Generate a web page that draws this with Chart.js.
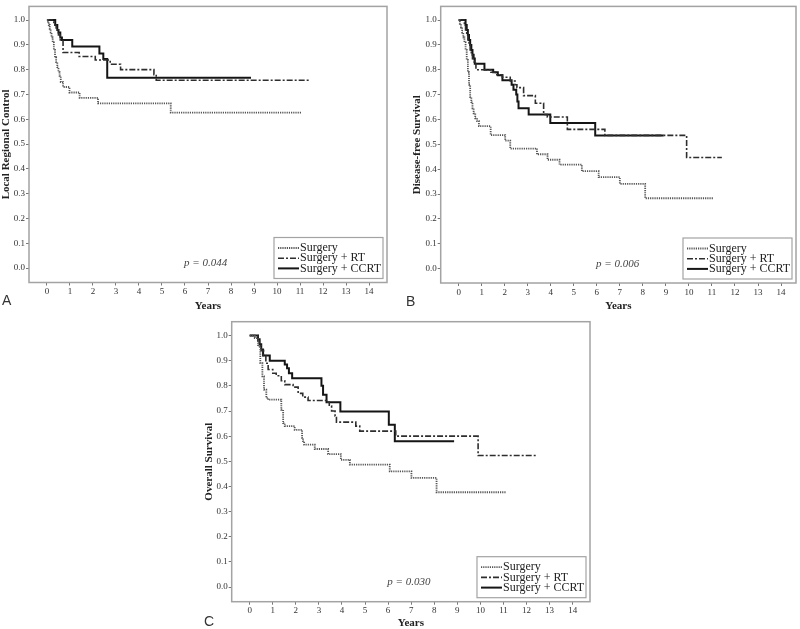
<!DOCTYPE html>
<html>
<head>
<meta charset="utf-8">
<script src="https://cdn.jsdelivr.net/npm/chart.js@4.4.1/dist/chart.umd.min.js"></script>
<style>
  body { margin: 0; background: #fff; width: 800px; height: 629px; position: relative; overflow: hidden; }
  canvas { position: absolute; }
  .tag { position: absolute; font-family: "Liberation Sans", Arial, sans-serif; font-size: 14px; line-height: 14px; color: #333; }
</style>
</head>
<body>
<canvas id="panelA" width="400" height="318" style="left:0;top:0"></canvas>
<canvas id="panelB" width="400" height="318" style="left:400px;top:0"></canvas>
<canvas id="panelC" width="400" height="316" style="left:200px;top:314px"></canvas>
<div class="tag" style="left:2px;top:293px">A</div>
<div class="tag" style="left:406px;top:294px">B</div>
<div class="tag" style="left:204px;top:614px">C</div>

<script>
// tick labels
const yearTicks = [0, 1, 2, 3, 4, 5, 6, 7, 8, 9, 10, 11, 12, 13, 14];
const survTicks = [0, 0.1, 0.2, 0.3, 0.4, 0.5, 0.6, 0.7, 0.8, 0.9, 1.0];
const groups = ['Surgery', 'Surgery + RT', 'Surgery + CCRT'];

// A - local regional control (time of each drop, value after it)
const lrcSurgT = [0, 0.04, 0.08, 0.12, 0.16, 0.2, 0.25, 0.3, 0.35, 0.4, 0.45, 0.5, 0.55, 0.6, 0.7, 0.98, 1.42, 2.22, 5.38, 11.08];
const lrcSurgS = [1, 0.99, 0.98, 0.965, 0.95, 0.93, 0.91, 0.88, 0.85, 0.83, 0.81, 0.79, 0.775, 0.75, 0.73, 0.708, 0.686, 0.664, 0.627, 0.627];
const lrcRtT = [0, 0.3, 0.4, 0.5, 0.58, 0.7, 1.4, 2.1, 2.75, 3.2, 4.65, 4.75, 11.4];
const lrcRtS = [1, 0.98, 0.96, 0.94, 0.92, 0.869, 0.853, 0.839, 0.822, 0.8, 0.78, 0.757, 0.757];
const lrcCcrtT = [0, 0.36, 0.45, 0.5, 0.58, 0.65, 1.1, 2.28, 2.45, 2.62, 8.87];
const lrcCcrtS = [1, 0.98, 0.96, 0.95, 0.93, 0.92, 0.893, 0.865, 0.843, 0.767, 0.767];

// B - disease-free survival
const dfsSurgT = [0, 0.05, 0.1, 0.15, 0.2, 0.25, 0.3, 0.35, 0.4, 0.45, 0.5, 0.55, 0.6, 0.65, 0.72, 0.8, 0.88, 1.39, 2.02, 2.24, 3.4, 3.86, 4.38, 5.35, 6.08, 7.0, 8.1, 11.06];
const dfsSurgS = [1, 0.985, 0.97, 0.95, 0.93, 0.91, 0.88, 0.84, 0.79, 0.74, 0.69, 0.67, 0.645, 0.625, 0.605, 0.593, 0.573, 0.537, 0.515, 0.483, 0.46, 0.438, 0.418, 0.392, 0.368, 0.341, 0.283, 0.283];
const dfsRtT = [0, 0.25, 0.3, 0.35, 0.4, 0.45, 0.5, 0.55, 0.6, 0.68, 0.75, 1.4, 1.6, 1.9, 2.24, 2.45, 2.53, 2.82, 3.33, 3.69, 3.85, 4.72, 6.35, 9.9, 11.43];
const dfsRtS = [1, 0.98, 0.96, 0.94, 0.92, 0.9, 0.88, 0.86, 0.845, 0.83, 0.8, 0.79, 0.78, 0.77, 0.755, 0.74, 0.728, 0.696, 0.665, 0.62, 0.61, 0.56, 0.536, 0.447, 0.447];
const dfsCcrtT = [0, 0.3, 0.35, 0.4, 0.45, 0.5, 0.55, 0.6, 0.65, 0.7, 1.12, 1.5, 1.7, 1.9, 2.3, 2.38, 2.5, 2.55, 2.6, 3.04, 3.98, 5.93, 8.9];
const dfsCcrtS = [1, 0.98, 0.96, 0.94, 0.92, 0.9, 0.88, 0.86, 0.845, 0.824, 0.8, 0.79, 0.778, 0.758, 0.74, 0.72, 0.7, 0.672, 0.645, 0.62, 0.586, 0.536, 0.536];

// C - overall survival
const osSurgT = [0, 0.22, 0.36, 0.46, 0.55, 0.62, 0.72, 0.8, 1.37, 1.45, 1.52, 1.95, 2.27, 2.31, 2.36, 2.82, 3.4, 3.95, 4.34, 6.07, 7.01, 8.1, 11.09];
const osSurgS = [1, 0.99, 0.957, 0.89, 0.838, 0.785, 0.752, 0.745, 0.705, 0.652, 0.64, 0.625, 0.593, 0.58, 0.566, 0.549, 0.529, 0.506, 0.487, 0.46, 0.434, 0.377, 0.377];
const osRtT = [0, 0.35, 0.42, 0.5, 0.6, 0.7, 0.8, 1.0, 1.15, 1.37, 1.52, 1.88, 2.1, 2.3, 2.53, 3.33, 3.45, 3.55, 3.7, 3.76, 4.6, 4.77, 6.33, 9.9, 12.48];
const osRtS = [1, 0.978, 0.96, 0.94, 0.92, 0.89, 0.865, 0.85, 0.84, 0.82, 0.805, 0.795, 0.77, 0.755, 0.742, 0.735, 0.72, 0.7, 0.68, 0.656, 0.64, 0.62, 0.6, 0.523, 0.523];
const osCcrtT = [0, 0.36, 0.43, 0.5, 0.58, 0.87, 1.52, 1.62, 1.7, 1.84, 3.11, 3.18, 3.33, 3.93, 6.03, 6.29, 8.86];
const osCcrtS = [1, 0.985, 0.965, 0.944, 0.921, 0.9, 0.885, 0.87, 0.85, 0.83, 0.8, 0.765, 0.735, 0.698, 0.645, 0.58, 0.58];

const pValues = ['p = 0.044', 'p = 0.006', 'p = 0.030'];
const pAt = [6.9, 0.02];

const serif = '"Liberation Serif", "Times New Roman", serif';
const lineStyles = [
  { borderColor: '#555', borderWidth: 1.8, borderDash: [1.2, 1] },
  { borderColor: '#2e2e2e', borderWidth: 1.6, borderDash: [6, 2, 2, 2] },
  { borderColor: '#151515', borderWidth: 2, borderDash: [] }
];

// frame, p value and the key box
const frameAndKey = {
  id: 'frameAndKey',
  afterDraw(chart, args, opts) {
    const { ctx, chartArea: a, scales } = chart;
    ctx.save();
    ctx.strokeStyle = '#a3a3a3';
    ctx.lineWidth = 1.5;
    ctx.strokeRect(a.left, a.top, a.right - a.left, a.bottom - a.top);

    ctx.font = 'italic 11px ' + serif;
    ctx.fillStyle = '#444';
    ctx.textAlign = 'center';
    ctx.textBaseline = 'middle';
    ctx.fillText(opts.pText, scales.x.getPixelForValue(pAt[0]), scales.y.getPixelForValue(pAt[1]));

    const w = 109, h = 41;
    const bx = a.right - 4 - w, by = a.bottom - 4 - h;
    ctx.fillStyle = '#fff';
    ctx.fillRect(bx, by, w, h);
    ctx.lineWidth = 1.2;
    ctx.strokeRect(bx, by, w, h);
    ctx.textAlign = 'left';
    ctx.font = '12px ' + serif;
    chart.data.datasets.forEach((ds, i) => {
      const yy = by + 10.5 + i * 10.2;
      ctx.strokeStyle = ds.borderColor;
      ctx.lineWidth = ds.borderWidth;
      ctx.setLineDash(ds.borderDash);
      ctx.beginPath();
      ctx.moveTo(bx + 4, yy);
      ctx.lineTo(bx + 25, yy);
      ctx.stroke();
      ctx.setLineDash([]);
      ctx.fillStyle = '#222';
      ctx.fillText(ds.label, bx + 26, yy);
    });
    ctx.restore();
  }
};

function makePanel(id, p) {
  const datasets = p.series.map(([t, s], i) => ({
    label: groups[i],
    data: t.map((v, k) => ({ x: v, y: s[k] })),
    stepped: true,
    fill: false,
    pointRadius: 0,
    ...lineStyles[i]
  }));
  return new Chart(document.getElementById(id), {
    type: 'line',
    data: { datasets },
    plugins: [frameAndKey],
    options: {
      responsive: false,
      animation: false,
      events: [],
      layout: { padding: p.pad },
      scales: {
        x: {
          type: 'linear',
          min: -0.78,
          max: p.xMax,
          afterBuildTicks: s => { s.ticks = yearTicks.map(v => ({ value: v })); },
          afterFit: s => { s.height = p.xH; },
          border: { display: false },
          grid: { drawOnChartArea: false, tickLength: 3, color: '#777' },
          ticks: { padding: 1, autoSkip: false, maxRotation: 0, color: '#333', font: { family: serif, size: 9 } },
          title: { display: true, text: 'Years', color: '#222', padding: { top: 0, bottom: p.titlePad }, font: { family: serif, size: 11, weight: 'bold' } }
        },
        y: {
          min: -0.058,
          max: 1.055,
          afterBuildTicks: s => { s.ticks = survTicks.map(v => ({ value: v })); },
          afterFit: s => { s.width = p.yW; },
          border: { display: false },
          grid: { drawOnChartArea: false, tickLength: 3, color: '#777' },
          ticks: { padding: 1, color: '#333', font: { family: serif, size: 9 }, callback: v => v.toFixed(1) },
          title: { display: true, text: p.yTitle, color: '#222', padding: 0, font: { family: serif, size: 11, weight: 'bold' } }
        }
      },
      plugins: {
        legend: { display: false },
        tooltip: { enabled: false },
        frameAndKey: { pText: p.pText }
      }
    }
  });
}

makePanel('panelA', {
  pad: { left: 0, top: 2, right: 13, bottom: 0 }, yW: 29, xH: 35.5, titlePad: 5, xMax: 14.78,
  yTitle: 'Local Regional Control', pText: pValues[0],
  series: [[lrcSurgT, lrcSurgS], [lrcRtT, lrcRtS], [lrcCcrtT, lrcCcrtS]]
});
makePanel('panelB', {
  pad: { left: 10.4, top: 4, right: 4, bottom: 0 }, yW: 30.3, xH: 35, titlePad: 5, xMax: 14.65,
  yTitle: 'Disease-free Survival', pText: pValues[1],
  series: [[dfsSurgT, dfsSurgS], [dfsRtT, dfsRtS], [dfsCcrtT, dfsCcrtS]]
});
makePanel('panelC', {
  pad: { left: 2.4, top: 7.7, right: 10, bottom: 0 }, yW: 29.3, xH: 28.3, titlePad: 0, xMax: 14.75,
  yTitle: 'Overall Survival', pText: pValues[2],
  series: [[osSurgT, osSurgS], [osRtT, osRtS], [osCcrtT, osCcrtS]]
});
</script>
</body>
</html>
